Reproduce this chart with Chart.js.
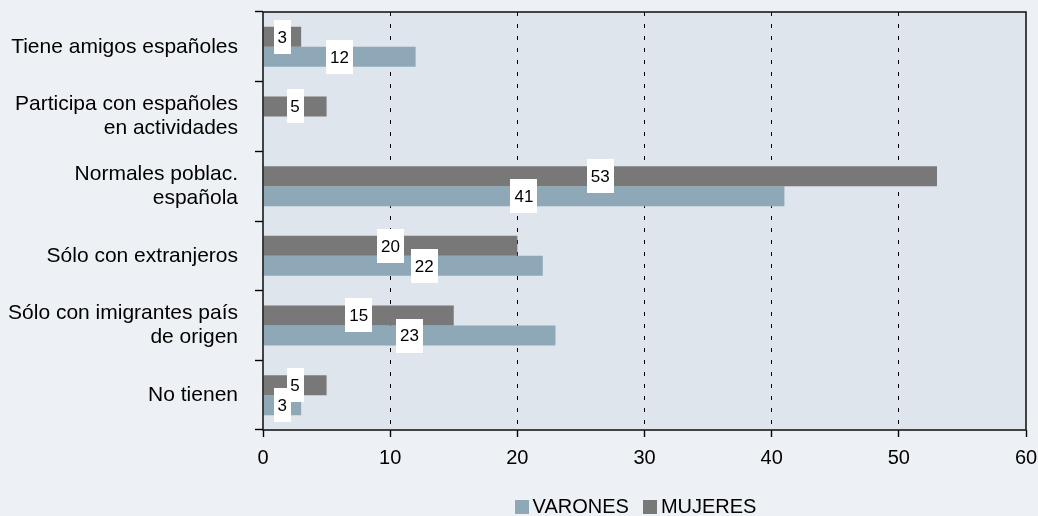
<!DOCTYPE html>
<html>
<head>
<meta charset="utf-8">
<script src="https://cdn.jsdelivr.net/npm/chart.js@4/dist/chart.umd.min.js"></script>
<style>
  html, body { margin: 0; padding: 0; background: #edf1f5; }
  #wrap { width: 1038px; height: 516px; }
</style>
</head>
<body>
<div id="wrap"><canvas id="c" width="1038" height="516"></canvas></div>
<script>
// Categories (top to bottom) and values per group
const categories = [
  ['Tiene amigos españoles'],
  ['Participa con españoles', 'en actividades'],
  ['Normales poblac.', 'española'],
  ['Sólo con extranjeros'],
  ['Sólo con imigrantes país', 'de origen'],
  ['No tienen']
];
const mujeres = [3, 5, 53, 20, 15, 5];
const varones = [12, null, 41, 22, 23, 3];
const xMin = 0;
const xMax = 60;
const xStep = 10;

const FONT = '"Liberation Sans", Arial, Helvetica, sans-serif';
const PAGE_BG = '#edf1f5';
const PLOT_BG = '#dfe5ec';
const COL_MUJERES = '#787878';
const COL_VARONES = '#8ea8b8';

Chart.defaults.font.family = FONT;
Chart.defaults.font.size = 20;
Chart.defaults.color = '#000';

// Page and plot backgrounds
const backgroundPlugin = {
  id: 'backgrounds',
  beforeDraw(chart) {
    const { ctx, chartArea: a } = chart;
    ctx.save();
    ctx.fillStyle = PAGE_BG;
    ctx.fillRect(0, 0, chart.width, chart.height);
    ctx.fillStyle = PLOT_BG;
    ctx.fillRect(a.left, a.top, a.right - a.left, a.bottom - a.top);
    ctx.restore();
  }
};

// Frame around the plot area, then white value boxes on each bar
const framePlugin = {
  id: 'frameAndValues',
  afterDatasetsDraw(chart, args, opts) {
    const { ctx, chartArea: a } = chart;
    ctx.save();
    ctx.strokeStyle = '#1a1a1a';
    ctx.lineWidth = 1.6;
    ctx.strokeRect(a.left, a.top, a.right - a.left, a.bottom - a.top);

    ctx.font = '17px ' + FONT;
    ctx.textAlign = 'center';
    ctx.textBaseline = 'middle';
    chart.data.datasets.forEach((ds, di) => {
      const meta = chart.getDatasetMeta(di);
      meta.data.forEach((bar, i) => {
        const v = ds.data[i];
        if (v === null || v === undefined) return;
        const txt = String(v);
        const nudge = (opts.nudge || []).find(n => n.label === ds.label && n.index === i);
        const cx = (bar.x + bar.base) / 2 + (nudge ? nudge.dx : 0);
        const cy = bar.y;
        const w = Math.round(ctx.measureText(txt).width + 8);
        const h = 34;
        ctx.fillStyle = '#ffffff';
        ctx.fillRect(Math.round(cx - w / 2), Math.round(cy - h / 2), w, h);
        ctx.fillStyle = '#000';
        ctx.fillText(txt, cx, cy + 1);
      });
    });
    ctx.restore();
  }
};

// Legend under the plot: square swatch + series name, series in reverse order
const legendPlugin = {
  id: 'bottomLegend',
  afterDraw(chart, args, opts) {
    const { ctx, chartArea: a } = chart;
    const items = chart.data.datasets.slice().reverse();
    ctx.save();
    ctx.font = '20px ' + FONT;
    ctx.textAlign = 'left';
    ctx.textBaseline = 'middle';
    const box = 14, gap = 4, spacing = 14;
    const widths = items.map(d => box + gap + ctx.measureText(d.label).width);
    const total = widths.reduce((s, w) => s + w, 0) + spacing * (items.length - 1);
    let x = (a.left + a.right) / 2 - total / 2 + opts.shiftX;
    const y = opts.y;
    items.forEach((d, k) => {
      ctx.fillStyle = d.backgroundColor;
      ctx.fillRect(Math.round(x), y - box / 2, box, box);
      ctx.fillStyle = '#000';
      ctx.fillText(d.label, x + box + gap, y);
      x += widths[k] + spacing;
    });
    ctx.restore();
  }
};

new Chart(document.getElementById('c'), {
  type: 'bar',
  data: {
    labels: categories,
    datasets: [
      { label: 'MUJERES', data: mujeres, backgroundColor: COL_MUJERES, borderWidth: 0,
        categoryPercentage: 0.575, barPercentage: 1.0 },
      { label: 'VARONES', data: varones, backgroundColor: COL_VARONES, borderWidth: 0,
        categoryPercentage: 0.575, barPercentage: 1.0 }
    ]
  },
  options: {
    indexAxis: 'y',
    responsive: false,
    animation: false,
    devicePixelRatio: 1,
    layout: { padding: { left: 0, right: 12, top: 12, bottom: 29 } },
    plugins: {
      legend: { display: false },
      tooltip: { enabled: false },
      frameAndValues: { nudge: [{ label: 'VARONES', index: 3, dx: 21 }] },
      bottomLegend: { y: 507, shiftX: -9 }
    },
    scales: {
      x: {
        min: xMin, max: xMax,
        ticks: { stepSize: xStep, padding: 9, color: '#000', font: { size: 20, lineHeight: 1.2 } },
        grid: {
          color: c => (c.tick && (c.tick.value === xMin || c.tick.value === xMax)) ? 'rgba(0,0,0,0)' : '#000',
          lineWidth: 1,
          tickColor: '#000',
          tickLength: 7,
          tickWidth: 1.4,
          tickBorderDash: []
        },
        border: { display: false, dash: [4, 8] },
        afterFit(scale) {
          scale.height = 57;
          scale.paddingLeft = 0;
          scale.paddingRight = 0;
        }
      },
      y: {
        ticks: { padding: 17, color: '#000', font: { size: 21, lineHeight: 24 / 21 } },
        grid: {
          offset: true,
          drawOnChartArea: false,
          drawTicks: true,
          tickLength: 8,
          tickColor: '#000',
          tickWidth: 1.4,
          color: '#000'
        },
        border: { display: false },
        afterFit(scale) {
          scale.width = 263;
          scale.paddingTop = 0;
          scale.paddingBottom = 0;
        }
      }
    }
  },
  plugins: [backgroundPlugin, framePlugin, legendPlugin]
});
</script>
</body>
</html>
